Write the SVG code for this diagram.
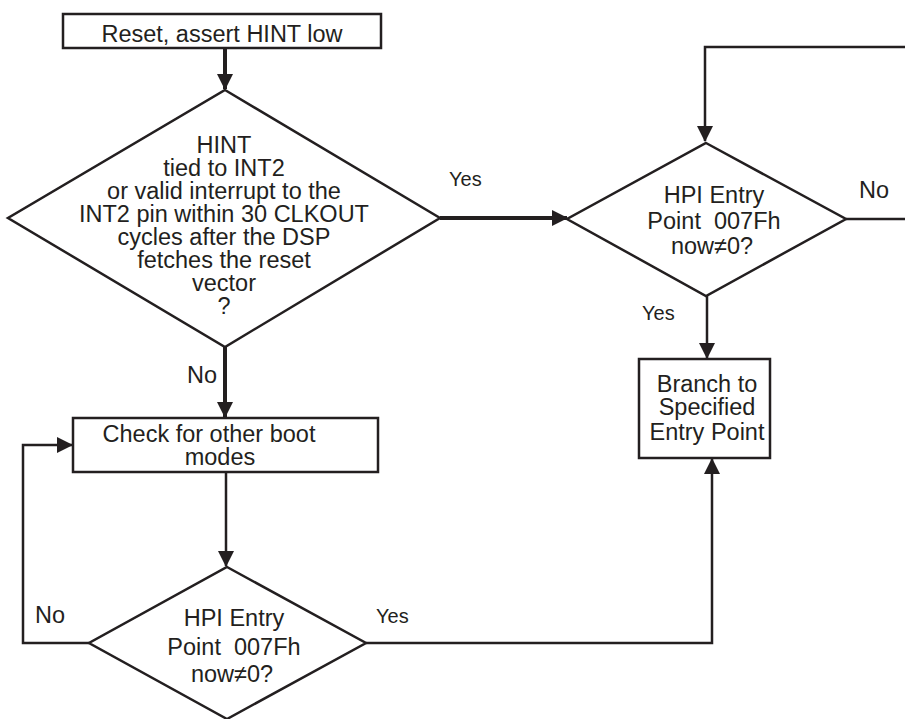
<svg xmlns="http://www.w3.org/2000/svg" width="905" height="719" viewBox="0 0 905 719">
<style>
  .node { fill: #ffffff; stroke: #231f20; stroke-width: 2.5; }
  .t { font-family: "Liberation Sans", Arial, Helvetica, sans-serif; font-size: 23.5px; fill: #231f20; text-anchor: middle; white-space: pre; }
  .lbl { font-family: "Liberation Sans", Arial, Helvetica, sans-serif; fill: #231f20; white-space: pre; }
  .thick { fill: none; stroke: #231f20; stroke-width: 4; }
  .thin { fill: none; stroke: #231f20; stroke-width: 2.5; }
</style>
<defs>
  <marker id="ah" markerUnits="userSpaceOnUse" markerWidth="16" markerHeight="16" refX="15" refY="8" orient="auto" viewBox="0 0 16 16">
    <path d="M0,0 L16,8 L0,16 z" fill="#231f20"/>
  </marker>
</defs>
<rect width="905" height="719" fill="#ffffff"/>

<g id="connectors">
  <path class="thick" d="M225,48 V89" marker-end="url(#ah)"/>
  <path class="thick" d="M440,218 H567" marker-end="url(#ah)"/>
  <path class="thick" d="M225,347 V417" marker-end="url(#ah)"/>
  <path class="thin" d="M905,47 H705 V141" marker-end="url(#ah)"/>
  <path class="thin" d="M846,219 H905"/>
  <path class="thin" d="M707,296 V358" marker-end="url(#ah)"/>
  <path class="thin" d="M226,472 V566" marker-end="url(#ah)"/>
  <path class="thin" d="M89,643 H23 V445 H72" marker-end="url(#ah)"/>
  <path class="thin" d="M366,643 H712 V459" marker-end="url(#ah)"/>
  <text class="lbl" x="449" y="186" font-size="20">Yes</text>
  <text class="lbl" x="859" y="198" font-size="23.5">No</text>
  <text class="lbl" x="642" y="320" font-size="20">Yes</text>
  <text class="lbl" x="187" y="383" font-size="23.5">No</text>
  <text class="lbl" x="35" y="623" font-size="23.5">No</text>
  <text class="lbl" x="376" y="623" font-size="20">Yes</text>
</g>

<g id="reset">
  <rect class="node" x="63" y="14" width="318" height="34"/>
  <text class="t" x="222" y="42">Reset, assert HINT low</text>
</g>

<g id="hint-decision">
  <polygon class="node" points="225,90 440,218 225,347 8,218"/>
  <text class="t" x="224" y="153">HINT</text>
  <text class="t" x="224" y="176">tied to INT2</text>
  <text class="t" x="224" y="199">or valid interrupt to the</text>
  <text class="t" x="224" y="222">INT2 pin within 30 CLKOUT</text>
  <text class="t" x="224" y="245">cycles after the DSP</text>
  <text class="t" x="224" y="268">fetches the reset</text>
  <text class="t" x="224" y="291">vector</text>
  <text class="t" x="224" y="314">?</text>
</g>

<g id="hpi-decision-1">
  <polygon class="node" points="706,143 846,219 706,296 567,219"/>
  <text class="t" x="714" y="203">HPI Entry</text>
  <text class="t" x="714" y="229">Point  007Fh</text>
  <text class="t" x="712" y="254">now≠0?</text>
</g>

<g id="branch">
  <rect class="node" x="639" y="359" width="131" height="99"/>
  <text class="t" x="707" y="392">Branch to</text>
  <text class="t" x="707" y="415">Specified</text>
  <text class="t" x="707" y="440">Entry Point</text>
</g>

<g id="check-boot">
  <rect class="node" x="73" y="418" width="305" height="54"/>
  <text class="t" x="209" y="442">Check for other boot</text>
  <text class="t" x="220" y="465">modes</text>
</g>

<g id="hpi-decision-2">
  <polygon class="node" points="227,567 366,643 227,719 89,643"/>
  <text class="t" x="234" y="626">HPI Entry</text>
  <text class="t" x="234" y="655">Point  007Fh</text>
  <text class="t" x="232" y="682">now≠0?</text>
</g>
</svg>
